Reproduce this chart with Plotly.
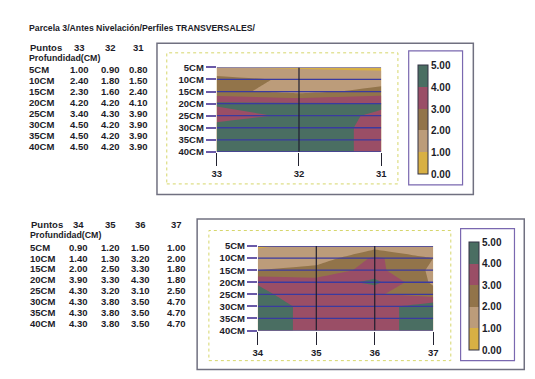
import plotly.graph_objects as go

# ---------------- data ----------------
titulo = "Parcela 3/Antes Nivelación/Perfiles TRANSVERSALES/"
profundidad = [5, 10, 15, 20, 25, 30, 35, 40]
prof_labels = ["5CM", "10CM", "15CM", "20CM", "25CM", "30CM", "35CM", "40CM"]

puntos_top = [33, 32, 31]
valores_top = [
    [1.00, 0.90, 0.80],
    [2.40, 1.80, 1.50],
    [2.30, 1.60, 2.40],
    [4.20, 4.20, 4.10],
    [3.40, 4.30, 3.90],
    [4.50, 4.20, 3.90],
    [4.50, 4.20, 3.90],
    [4.50, 4.20, 3.90],
]

puntos_bot = [34, 35, 36, 37]
valores_bot = [
    [0.90, 1.20, 1.50, 1.00],
    [1.40, 1.30, 3.20, 2.00],
    [2.00, 2.50, 3.30, 1.80],
    [3.90, 3.30, 4.30, 1.80],
    [4.30, 3.20, 3.10, 2.50],
    [4.30, 3.80, 3.50, 4.70],
    [4.30, 3.80, 3.50, 4.70],
    [4.30, 3.80, 3.50, 4.70],
]

niveles = [0, 1, 2, 3, 4, 5]
band_colors = ["#d8b044", "#bc9c7a", "#92744a", "#9a4e66", "#4a6e62"]

# ---------------- helpers ----------------
W, H = 535, 379
FONT = "Liberation Sans"
TXT = "#1c1c28"


def px(x):
    return x / W


def py(y):
    return 1 - y / H


scale = []
n = len(band_colors)
for i, c in enumerate(band_colors):
    scale.append([i / n, c])
    scale.append([(i + 1) / n, c])

fig = go.Figure()


def add_contour(xs, zs, xa, ya, cb_x, cb_y, cb_len):
    fig.add_trace(go.Contour(
        x=xs, y=profundidad, z=zs, xaxis=xa, yaxis=ya,
        zmin=niveles[0], zmax=niveles[-1], colorscale=scale,
        contours=dict(start=niveles[0], end=niveles[-1], size=1,
                      coloring="fill", showlines=False),
        line=dict(width=0), line_smoothing=0,
        colorbar=dict(x=px(cb_x), xanchor="left", y=py(cb_y), yanchor="top",
                      len=cb_len, lenmode="pixels", thickness=10,
                      xpad=0, ypad=0, outlinewidth=1, outlinecolor="#333344",
                      tickvals=niveles, tickformat=".2f", ticks="",
                      tickfont=dict(family=FONT, size=10, color=TXT, weight="bold")),
        hoverinfo="skip",
    ))


add_contour(puntos_top, valores_top, "x", "y", 413, 53, 109)
add_contour(puntos_bot, valores_bot, "x2", "y2", 466, 235, 108)

axfont = dict(family=FONT, size=9.5, color=TXT, weight="bold")
common_x = dict(showgrid=False, zeroline=False, showline=False, ticks="outside",
                ticklen=13, tickcolor="#222230", tickwidth=1, tickfont=axfont)
common_y = dict(showgrid=False, zeroline=False, showline=False, ticks="outside",
                ticklen=10, tickcolor="#6a5aa8", tickwidth=1.5, tickfont=axfont,
                tickvals=profundidad, ticktext=prof_labels,
                range=[profundidad[-1], profundidad[0]])

fig.update_layout(
    width=W, height=H, margin=dict(l=0, r=0, t=0, b=0),
    paper_bgcolor="white", plot_bgcolor="white", showlegend=False,
    xaxis=dict(domain=[px(208), px(376)], range=[puntos_top[0], puntos_top[-1]],
               tickvals=puntos_top, anchor="y", **common_x),
    yaxis=dict(domain=[py(142), py(55)], anchor="x", **common_y),
    xaxis2=dict(domain=[px(250), px(429)], range=[puntos_bot[0], puntos_bot[-1]],
                tickvals=puntos_bot, anchor="y2", **common_x),
    yaxis2=dict(domain=[py(326), py(239)], anchor="x2", **common_y),
)

shapes = []
# grid lines drawn through the axes' own scales
for xa, ya, pts in (("x", "y", puntos_top), ("x2", "y2", puntos_bot)):
    for d in profundidad:
        shapes.append(dict(type="line", xref=xa, yref=ya, x0=pts[0], x1=pts[-1],
                           y0=d, y1=d, line=dict(color="#3a3aa0", width=1.3)))
    for p in pts[1:-1]:
        shapes.append(dict(type="line", xref=xa, yref=ya, x0=p, x1=p,
                           y0=profundidad[0], y1=profundidad[-1],
                           line=dict(color="#1e1e2e", width=1.2)))


def box(x0, y0, x1, y1, color, width=1, dash="solid"):
    shapes.append(dict(type="rect", xref="paper", yref="paper",
                       x0=px(x0), x1=px(x1), y0=py(y1), y1=py(y0),
                       line=dict(color=color, width=width, dash=dash),
                       fillcolor="rgba(0,0,0,0)", layer="below"))


# top panel frames
box(147, 30, 470, 186, "#707080", 1.5)
box(157, 40, 393, 175, "#d6d66a", 1, "dot")
box(404, 38, 459, 176, "#7a68b0", 1.2)
# bottom panel frames
box(188, 211, 522, 366, "#707080", 1.5)
box(200, 223, 447, 357, "#d6d66a", 1, "dot")
box(457, 221, 512, 357, "#7a68b0", 1.2)

fig.update_layout(shapes=shapes)

ann = []


def text(x, y, s, size=10, anchor="left", weight="bold"):
    ann.append(dict(x=px(x), y=py(y), xref="paper", yref="paper", text=s,
                    showarrow=False, xanchor=anchor, yanchor="middle",
                    borderpad=0,
                    font=dict(family=FONT, size=size, color=TXT, weight=weight)))


text(15, 14, titulo, size=8.7)

ROW_STEP = 11.3
ROW_FONT = 9.5

# top table
top_cols = [68, 100, 128]
text(16, 34, "Puntos", size=9.5)
for cx, p in zip(top_cols, puntos_top):
    text(cx, 34, str(p), size=9.5, anchor="center")
text(15, 45, "Profundidad(CM)", size=8.8)
for i, (lab, row) in enumerate(zip(prof_labels, valores_top)):
    ry = 57 + i * ROW_STEP
    text(15, ry, lab, size=ROW_FONT)
    for cx, v in zip(top_cols, row):
        text(cx, ry, f"{v:.2f}", size=ROW_FONT, anchor="center")

# bottom table
bot_cols = [67, 100, 130, 167]
text(17, 217, "Puntos", size=9.5)
for cx, p in zip(bot_cols, puntos_bot):
    text(cx, 217, str(p), size=9.5, anchor="center")
text(16, 228, "Profundidad(CM)", size=8.8)
for i, (lab, row) in enumerate(zip(prof_labels, valores_bot)):
    ry = 240 + i * ROW_STEP
    text(16, ry, lab, size=ROW_FONT)
    for cx, v in zip(bot_cols, row):
        text(cx, ry, f"{v:.2f}", size=ROW_FONT, anchor="center")

fig.update_layout(annotations=ann)

fig.write_html("out.html")
